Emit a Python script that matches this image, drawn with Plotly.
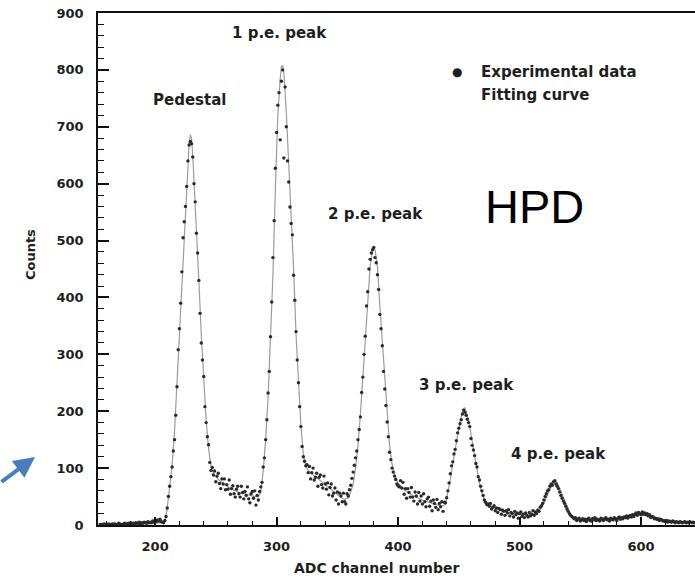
import plotly.graph_objects as go

# ---------------- data ----------------
# experimental counts, one value per ADC channel starting at channel 155
counts = [
    1, 1, 0, 2, 1, 0, 1, 2, 0, 1,            # 155-164
    2, 1, 2, 0, 1, 3, 2, 1, 0, 2,            # 165-174
    3, 2, 1, 3, 2, 4, 2, 3, 1, 4,            # 175-184
    3, 3, 5, 2, 4, 3, 5, 4, 3, 6,            # 185-194
    4, 5, 4, 7, 5, 8, 6, 9, 7, 10,           # 195-204
    6, 5, 4, 8, 15, 30, 50, 68, 85, 102,     # 205-214
    130, 150, 193, 243, 308, 345, 390, 445, 505, 533,   # 215-224
    560, 595, 640, 668, 674, 670, 647, 600, 568, 513,   # 225-234
    478, 430, 372, 320, 290, 261, 208, 180, 155, 141,   # 235-244
    110, 96, 101, 88, 95, 76, 86, 91, 73, 64,           # 245-254
    81, 72, 81, 62, 71, 63, 79, 54, 64, 69,             # 255-264
    55, 49, 63, 68, 55, 49, 68, 57, 46, 59,             # 265-274
    52, 67, 46, 39, 55, 59, 47, 60, 35, 52,             # 275-284
    44, 59, 67, 75, 102, 118, 150, 185, 232, 270,       # 285-294
    331, 392, 470, 535, 627, 690, 738, 760, 677, 780,   # 295-304
    800, 645, 770, 700, 640, 603, 559, 530, 510, 439,   # 305-314
    395, 340, 290, 250, 208, 173, 138, 120, 112, 104,   # 315-324
    106, 92, 103, 81, 92, 100, 79, 84, 91, 68,          # 325-334
    84, 88, 71, 65, 86, 72, 63, 74, 53, 66,             # 335-344
    72, 51, 56, 65, 44, 58, 37, 56, 51, 41,             # 345-354
    56, 41, 37, 55, 51, 62, 70, 82, 93, 105,            # 355-364
    118, 130, 150, 168, 190, 233, 260, 300, 332, 385,   # 365-374
    410, 450, 467, 478, 484, 488, 470, 461, 440, 414,   # 375-384
    370, 345, 315, 270, 239, 210, 181, 155, 128, 115,   # 385-394
    100, 93, 86, 80, 72, 69, 67, 78, 65, 75,            # 395-404
    54, 64, 47, 64, 57, 49, 66, 49, 42, 58,             # 405-414
    51, 37, 57, 42, 51, 37, 55, 41, 32, 46,             # 415-424
    49, 33, 42, 25, 44, 38, 31, 45, 27, 38,             # 425-434
    32, 41, 24, 40, 39, 48, 60, 74, 90, 104,            # 435-444
    111, 125, 133, 148, 162, 170, 178, 185, 195, 202,   # 445-454
    198, 193, 186, 180, 173, 152, 140, 132, 122, 108,   # 455-464
    102, 85, 79, 68, 60, 52, 44, 40, 36, 37,            # 465-474
    33, 38, 28, 31, 34, 25, 30, 22, 29, 27,             # 475-484
    19, 26, 24, 17, 25, 21, 27, 16, 22, 20,             # 485-494
    14, 24, 18, 21, 12, 20, 23, 15, 19, 13,             # 495-504
    21, 17, 14, 22, 16, 19, 25, 17, 23, 20,             # 505-514
    26, 24, 31, 34, 38, 44, 50, 55, 60, 62,             # 515-524
    68, 72, 70, 76, 78, 72, 68, 64, 58, 52,             # 525-534
    47, 42, 38, 33, 28, 24, 20, 17, 15, 13,             # 535-544
    11, 13, 8, 10, 12, 7, 9, 11, 8, 10,                 # 545-554
    6, 10, 12, 8, 7, 11, 9, 13, 8, 10,                  # 555-564
    9, 7, 12, 10, 8, 11, 13, 9, 10, 7,                  # 565-574
    12, 10, 9, 13, 11, 8, 12, 14, 10, 13,               # 575-584
    11, 14, 13, 16, 12, 15, 17, 14, 18, 15,             # 585-594
    19, 21, 17, 22, 20, 18, 23, 19, 21, 18,             # 595-604
    20, 16, 18, 13, 15, 14, 11, 12, 10, 11,             # 605-614
    8, 10, 9, 7, 8, 6, 8, 5, 7, 6,                      # 615-624
    5, 7, 6, 4, 6, 5, 4, 6, 5, 4,                       # 625-634
    5, 6, 4, 5, 4, 6, 5, 4, 5, 4,                       # 635-644
]
first_channel = 155
channels = list(range(first_channel, first_channel + len(counts)))

# fitting curve
fit_x = [153, 170, 190, 200, 205, 208, 210, 212, 214, 216, 218, 220, 222, 224,
         226, 228, 229, 230, 231, 232, 234, 236, 238, 240, 242, 244, 246, 248,
         252, 258, 264, 270, 276, 282, 285, 287, 289, 291, 293, 295, 297, 299,
         301, 303, 304, 305, 306, 308, 310, 312, 314, 316, 318, 320, 322, 324,
         326, 330, 336, 342, 348, 352, 356, 359, 361, 363, 365, 367, 369, 371,
         373, 375, 377, 379, 380, 381, 383, 385, 387, 389, 391, 393, 395, 397,
         400, 405, 412, 420, 428, 436, 439, 441, 443, 445, 447, 449, 451, 453,
         454, 455, 456, 458, 460, 462, 464, 466, 468, 470, 473, 480, 490, 500,
         508, 514, 518, 521, 524, 527, 529, 531, 533, 536, 539, 542, 546, 552,
         560, 570, 580, 588, 594, 598, 602, 606, 612, 620, 630, 644]
fit_y = [2, 2, 3, 3, 4, 6, 30, 65, 105, 165, 250, 335, 435, 525,
         600, 670, 686, 680, 650, 600, 515, 430, 335, 255, 185, 135, 103, 90,
         80, 70, 62, 57, 53, 50, 50, 58, 95, 150, 225, 320, 440, 590,
         720, 785, 806, 808, 795, 725, 640, 545, 450, 335, 245, 175, 125, 104,
         96, 88, 78, 67, 56, 50, 45, 48, 58, 72, 100, 140, 195, 260,
         330, 405, 455, 482, 487, 484, 455, 385, 320, 250, 190, 140, 108, 90,
         74, 62, 52, 44, 38, 33, 36, 55, 80, 108, 135, 160, 182, 198,
         205, 206, 200, 185, 160, 132, 106, 84, 64, 50, 38, 29, 22, 19,
         18, 21, 30, 42, 58, 72, 78, 74, 64, 48, 32, 19, 12, 9,
         8, 9, 10, 13, 16, 19, 20, 17, 11, 7, 5, 5]

x_tick_values = [200, 300, 400, 500, 600]
y_tick_values = [0, 100, 200, 300, 400, 500, 600, 700, 800, 900]
peak_names = ["Pedestal", "1 p.e. peak", "2 p.e. peak", "3 p.e. peak", "4 p.e. peak"]
legend_names = ["Experimental data", "Fitting curve"]
x_title = "ADC channel number"
y_title = "Counts"
big_label = "HPD"

# ---------------- figure ----------------
TXT = "#1e1e1e"
FONT = "DejaVu Sans"

fig = go.Figure()
fig.add_trace(go.Scatter(
    x=fit_x, y=fit_y, mode="lines", name=legend_names[1],
    line=dict(color="#9c9c9c", width=1.2), showlegend=False, hoverinfo="skip"))
fig.add_trace(go.Scatter(
    x=channels, y=counts, mode="markers", name=legend_names[0],
    marker=dict(color="#2a2a2a", size=3.4, line=dict(width=0)), showlegend=False))

tickfont = dict(family=FONT, size=13, color=TXT, weight="bold")
fig.update_layout(
    width=695, height=579,
    margin=dict(l=98, r=0, t=13, b=54),
    paper_bgcolor="white", plot_bgcolor="white",
    xaxis=dict(range=[153, 644.4], tickvals=x_tick_values, ticks="inside",
               ticklen=8, tickwidth=1.5, tickcolor="#111",
               showline=True, linecolor="#111", linewidth=2, mirror=True,
               showgrid=False, zeroline=False, tickfont=tickfont,
               ticklabelstandoff=8,
               minor=dict(tick0=0, dtick=20, ticks="inside", ticklen=4,
                          tickwidth=1, tickcolor="#111", showgrid=False)),
    yaxis=dict(range=[0, 900], tickvals=y_tick_values, ticks="inside",
               ticklen=11, tickwidth=1.5, tickcolor="#111",
               showline=True, linecolor="#111", linewidth=1.5,
               showgrid=False, zeroline=False, tickfont=tickfont,
               ticklabelstandoff=10,
               minor=dict(tick0=0, dtick=20, ticks="inside", ticklen=6,
                          tickwidth=1, tickcolor="#111", showgrid=False)),
    showlegend=False,
)

afont = dict(family=FONT, size=15, color=TXT, weight="bold")
peak_pos = [(228.7, 747), (302.8, 865), (381, 547), (456.7, 246), (532.4, 125)]
for name, (px, py) in zip(peak_names, peak_pos):
    fig.add_annotation(x=px, y=py, text=name, showarrow=False, font=afont,
                       xanchor="center", yanchor="middle")

# legend drawn as text
fig.add_annotation(x=448.5, y=796, text="●", showarrow=False,
                   font=dict(family=FONT, size=12, color=TXT),
                   xanchor="center", yanchor="middle")
fig.add_annotation(x=466.5, y=796, text=legend_names[0], showarrow=False,
                   font=afont, xanchor="left", yanchor="middle")
fig.add_annotation(x=466.5, y=756, text=legend_names[1], showarrow=False,
                   font=afont, xanchor="left", yanchor="middle")

# big label
fig.add_annotation(x=511.9, y=559, text=big_label, showarrow=False,
                   font=dict(family="Liberation Sans", size=47, color="black"),
                   xanchor="center", yanchor="middle")

# axis titles
fig.add_annotation(xref="paper", yref="paper", x=0.466, y=-0.084,
                   text=x_title, showarrow=False,
                   font=dict(family=FONT, size=14, color=TXT, weight="bold"),
                   xanchor="center", yanchor="middle")
fig.add_annotation(xref="paper", yref="paper", x=-0.114, y=0.529,
                   text=y_title, showarrow=False, textangle=-90,
                   font=dict(family=FONT, size=13, color=TXT, weight="bold"),
                   xanchor="center", yanchor="middle")

# blue pointer arrow on the left
fig.add_annotation(xref="paper", yref="paper", x=-0.1055, y=0.133,
                   text="", showarrow=True, ax=-48, ay=26,
                   arrowcolor="#4a7ebb", arrowwidth=4, arrowhead=2,
                   arrowsize=1.05, standoff=0)

fig.write_html("out.html")
